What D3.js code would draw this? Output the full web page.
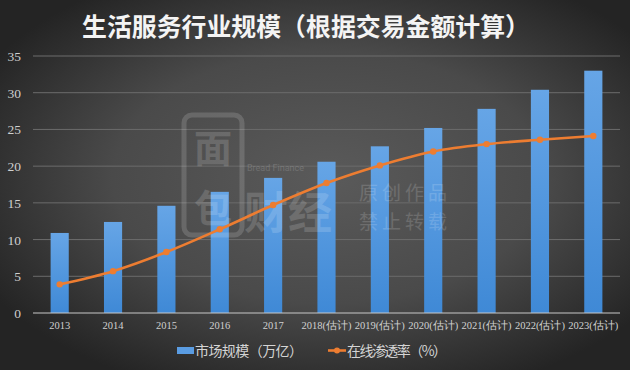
<!DOCTYPE html>
<html>
<head>
<meta charset="utf-8">
<script src="https://cdn.jsdelivr.net/npm/d3@7"></script>
<style>
  html, body { margin: 0; padding: 0; background: #333; }
  svg { display: block; }
</style>
</head>
<body>
<div id="chart"></div>
<script>
var categories = ['2013', '2014', '2015', '2016', '2017', '2018(估计)', '2019(估计)', '2020(估计)', '2021(估计)', '2022(估计)', '2023(估计)'];
var marketSize = [10.9, 12.4, 14.6, 16.5, 18.4, 20.6, 22.7, 25.2, 27.8, 30.4, 33.0];
var penetration = [3.9, 5.7, 8.3, 11.4, 14.7, 17.7, 20.1, 22.0, 23.0, 23.6, 24.1];
var yTicks = [0, 5, 10, 15, 20, 25, 30, 35];
var legendLabels = ['市场规模（万亿）', '在线渗透率（%）'];
var title = '生活服务行业规模（根据交易金额计算）';

var W = 630, H = 370;
var margin = {left: 33, right: 10, top: 56, bottom: 57};

var svg = d3.select('#chart').append('svg').attr('width', W).attr('height', H);
var defs = svg.append('defs');

// background: dark radial glow
var bg = defs.append('radialGradient').attr('id', 'bg')
  .attr('cx', '52%').attr('cy', '48%').attr('r', '62%');
bg.append('stop').attr('offset', '0%').attr('stop-color', '#5a5a5a');
bg.append('stop').attr('offset', '55%').attr('stop-color', '#4a4a4a');
bg.append('stop').attr('offset', '100%').attr('stop-color', '#242424');
svg.append('rect').attr('width', W).attr('height', H).attr('fill', 'url(#bg)');

var barGrad = defs.append('linearGradient').attr('id', 'barGrad')
  .attr('x1', 0).attr('y1', 0).attr('x2', 0).attr('y2', 1);
barGrad.append('stop').attr('offset', '0%').attr('stop-color', '#66a5e6');
barGrad.append('stop').attr('offset', '100%').attr('stop-color', '#3f89d6');

var x = d3.scaleBand().domain(categories)
  .range([margin.left, W - margin.right]).paddingInner(0.66).paddingOuter(0.33);
var y = d3.scaleLinear().domain([0, 35]).range([H - margin.bottom, margin.top]);

/* grid lines */
svg.append('g').selectAll('line').data(yTicks.filter(function(d){ return d > 0; })).enter()
  .append('line')
  .attr('x1', margin.left).attr('x2', W - margin.right)
  .attr('y1', function(d){ return y(d); }).attr('y2', function(d){ return y(d); })
  .style('stroke', '#6c6c6c').style('stroke-width', 1);

/* y tick labels */
svg.append('g').selectAll('text').data(yTicks).enter().append('text')
  .attr('x', 21).attr('y', function(d){ return y(d) + 5; })
  .attr('text-anchor', 'end')
  .style('font-family', 'Liberation Serif, DejaVu Serif, serif').style('font-size', '13.5px')
  .style('fill', '#cfcfcf')
  .text(function(d){ return d; });

/* bars */
svg.append('g').selectAll('rect').data(marketSize).enter().append('rect')
  .attr('x', function(d, i){ return x(categories[i]); })
  .attr('y', function(d){ return y(d); })
  .attr('width', x.bandwidth())
  .attr('height', function(d){ return y(0) - y(d); })
  .style('fill', 'url(#barGrad)');

/* watermark (faint, over the bars) */
var wm = svg.append('g').style('opacity', 0.15);
wm.append('rect').attr('x', 184).attr('y', 115).attr('width', 58).attr('height', 120).attr('rx', 8)
  .style('fill', 'none').style('stroke', '#fff').style('stroke-width', 5);
wm.append('text').attr('x', 213).attr('y', 162).attr('text-anchor', 'middle')
  .style('font-family', 'Noto Sans CJK SC').style('font-size', '38px').style('font-weight', 'bold')
  .style('fill', '#fff').text('面');
wm.append('text').attr('x', 213).attr('y', 222).attr('text-anchor', 'middle')
  .style('font-family', 'Noto Sans CJK SC').style('font-size', '38px').style('font-weight', 'bold')
  .style('fill', '#fff').text('包');
wm.append('text').attr('x', 247).attr('y', 171)
  .style('font-family', 'Roboto, sans-serif').style('font-size', '9px')
  .style('fill', '#fff').text('Bread Finance');
wm.append('text').attr('x', 244).attr('y', 229)
  .style('font-family', 'Noto Sans CJK SC').style('font-size', '44px').style('font-weight', 'bold')
  .style('fill', '#fff').text('财经');
wm.append('text').attr('x', 359).attr('y', 200)
  .style('font-family', 'Noto Sans CJK SC').style('font-size', '19px')
  .style('fill', '#fff').attr('textLength', 88).text('原创作品');
wm.append('text').attr('x', 359).attr('y', 229)
  .style('font-family', 'Noto Sans CJK SC').style('font-size', '19px')
  .style('fill', '#fff').attr('textLength', 88).text('禁止转载');

/* x axis line */
svg.append('line')
  .attr('x1', margin.left).attr('x2', W - margin.right)
  .attr('y1', y(0)).attr('y2', y(0))
  .style('stroke', '#c8c8c8').style('stroke-width', 1.2);

/* x labels */
svg.append('g').selectAll('text').data(categories).enter().append('text')
  .attr('x', function(d){ return x(d) + x.bandwidth() / 2; })
  .attr('y', y(0) + 16)
  .attr('text-anchor', 'middle')
  .style('font-family', 'Liberation Serif, DejaVu Serif, serif').style('font-size', '10.5px')
  .style('fill', '#d0d0d0')
  .text(function(d){ return d; });

/* line */
var line = d3.line()
  .x(function(d, i){ return x(categories[i]) + x.bandwidth() / 2; })
  .y(function(d){ return y(d); })
  .curve(d3.curveMonotoneX);
svg.append('path').datum(penetration)
  .attr('d', line)
  .style('fill', 'none').style('stroke', '#ed7d31').style('stroke-width', 2.6);
svg.append('g').selectAll('circle').data(penetration).enter().append('circle')
  .attr('cx', function(d, i){ return x(categories[i]) + x.bandwidth() / 2; })
  .attr('cy', function(d){ return y(d); })
  .attr('r', 3.2)
  .style('fill', '#ed7d31');

/* title */
svg.append('text').attr('x', 82).attr('y', 36)
  .style('font-family', 'Noto Sans CJK SC').style('font-size', '25px').style('font-weight', 'bold')
  .style('fill', '#f4f4f4')
  .attr('textLength', 448).attr('lengthAdjust', 'spacingAndGlyphs')
  .text(title);

/* legend */
var leg = svg.append('g');
leg.append('rect').attr('x', 177).attr('y', 347).attr('width', 17).attr('height', 7).style('fill', '#5a9ce2');
leg.append('text').attr('x', 195).attr('y', 356)
  .style('font-family', 'Noto Sans CJK SC').style('font-size', '14px').style('fill', '#d4d4d4')
  .attr('textLength', 108)
  .text(legendLabels[0]);
leg.append('line').attr('x1', 328).attr('x2', 346).attr('y1', 350.5).attr('y2', 350.5)
  .style('stroke', '#ed7d31').style('stroke-width', 2.6);
leg.append('circle').attr('cx', 337).attr('cy', 350.5).attr('r', 3).style('fill', '#ed7d31');
leg.append('text').attr('x', 347).attr('y', 356)
  .style('font-family', 'Noto Sans CJK SC').style('font-size', '14px').style('fill', '#d4d4d4')
  .attr('textLength', 100)
  .text(legendLabels[1]);
</script>
</body>
</html>
